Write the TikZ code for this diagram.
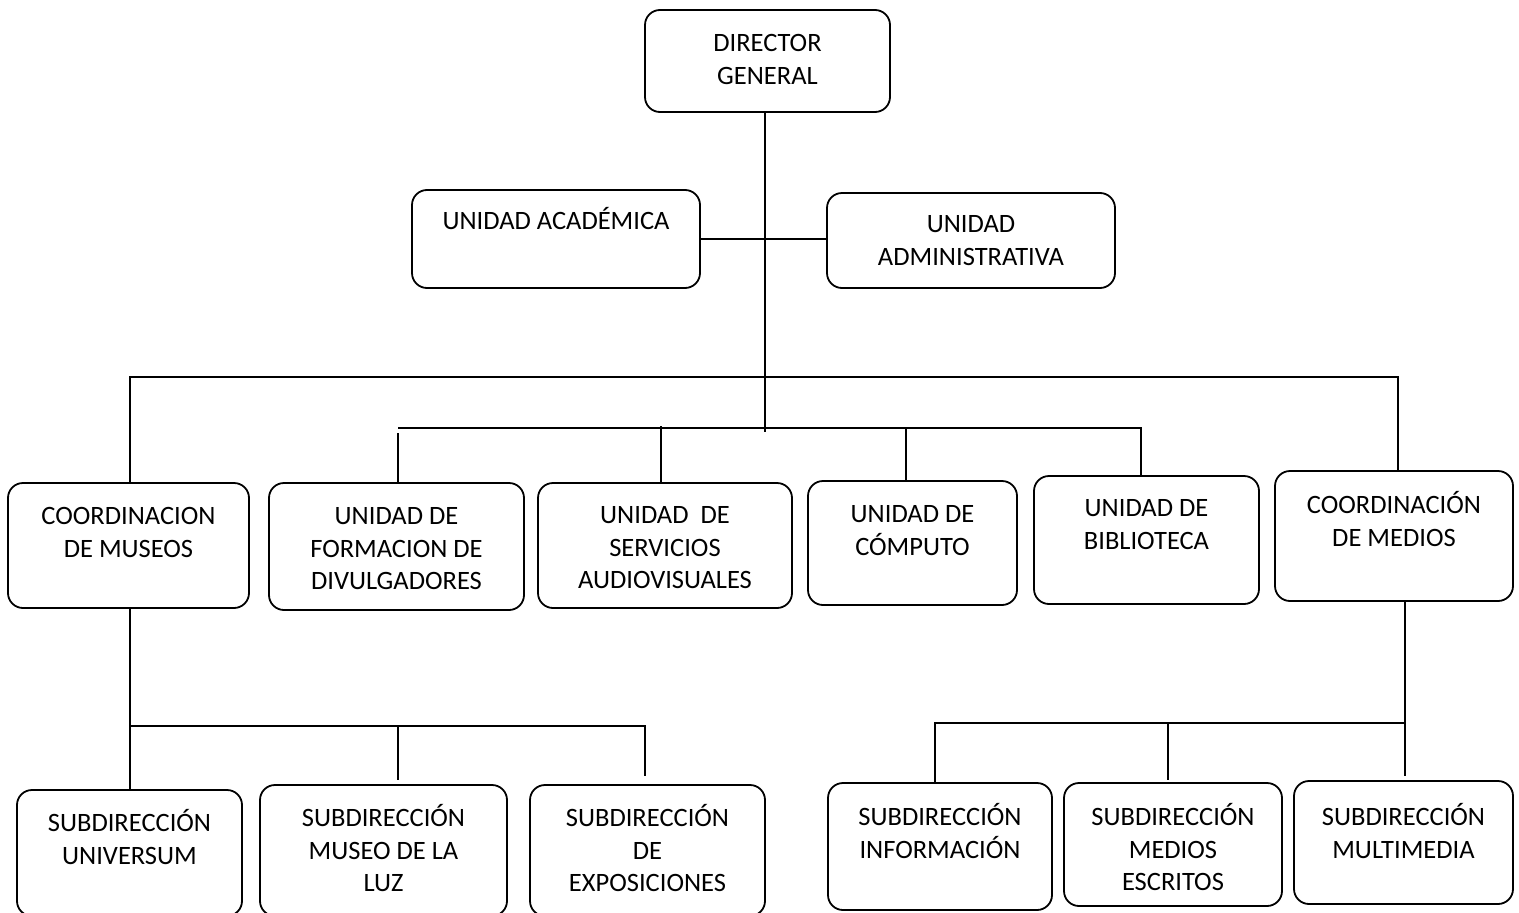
\documentclass[tikz,border=0pt]{standalone}
\usepackage{fontspec}
\setmainfont{Carlito}
\usetikzlibrary{fit}
\tikzset{x=1pt,y=-1pt,
  orgbox/.style={draw, line width=1.8pt, rounded corners=15pt, inner sep=0pt},
  lbl/.style={font=\fontsize{26.5}{32.5}\selectfont, align=center, inner sep=0pt, anchor=north},
  link/.style={line width=1.8pt}}
\newcommand\orgnode[7]{%
  \node[orgbox, fit={(#2,#3) (#4,#5)}] (#1) {};
  \node[lbl] (#1-t) at ({(#2+#4)/2},{#6+1-25}) {\rule{0pt}{25pt}#7};}
\begin{document}
\begin{tikzpicture}
\useasboundingbox (0,0) rectangle (1519,913);
\orgnode{dg}{645}{10}{890}{112}{50.5}{DIRECTOR\\GENERAL}
\orgnode{ua}{412}{190}{700}{288}{228.5}{UNIDAD ACADÉMICA}
\orgnode{uadm}{827}{193}{1115}{288}{231.5}{UNIDAD\\ADMINISTRATIVA}
\orgnode{cm}{8}{483}{249}{608}{523.5}{COORDINACION\\DE MUSEOS}
\orgnode{ufd}{269}{483}{524}{610}{523.5}{UNIDAD DE\\FORMACION DE\\DIVULGADORES}
\orgnode{usa}{538}{483}{792}{608}{522.5}{UNIDAD\ \ DE\\SERVICIOS\\AUDIOVISUALES}
\orgnode{uc}{808}{481}{1017}{605}{521.5}{UNIDAD DE\\CÓMPUTO}
\orgnode{ub}{1034}{476}{1259}{604}{515.5}{UNIDAD DE\\BIBLIOTECA}
\orgnode{cmed}{1275}{471}{1513}{601}{512.5}{COORDINACIÓN\\DE MEDIOS}
\orgnode{su}{17}{790}{242}{916}{830.5}{SUBDIRECCIÓN\\UNIVERSUM}
\orgnode{sml}{260}{785}{507}{916}{825.5}{SUBDIRECCIÓN\\MUSEO DE LA\\LUZ}
\orgnode{sde}{530}{785}{765}{916}{825.5}{SUBDIRECCIÓN\\DE\\EXPOSICIONES}
\orgnode{si}{828}{783}{1052}{910}{824.5}{SUBDIRECCIÓN\\INFORMACIÓN}
\orgnode{sme}{1064}{783}{1282}{906}{824.5}{SUBDIRECCIÓN\\MEDIOS\\ESCRITOS}
\orgnode{smm}{1294}{781}{1513}{904}{824.5}{SUBDIRECCIÓN\\MULTIMEDIA}
% connectors
\coordinate (hub) at (765,432);
\draw[link] (dg.south -| hub) -- (hub);
\draw[link] (ua.east) -- (ua.east -| uadm.west);
\coordinate (b1l) at (130,377);
\coordinate (b1r) at (1398,377);
\draw[link] (cm.north -| b1l) -- (b1l) -- (b1r) -- (b1r |- cmed.north);
\coordinate (b2l) at (398,428);
\coordinate (b2r) at (1141,428);
\draw[link] (b2l) -- (b2r) -- (b2r |- ub.north);
\coordinate (d1) at (398,433);
\coordinate (d2) at (661,426);
\coordinate (d3) at (906,428);
\draw[link] (d1) -- (d1 |- ufd.north);
\draw[link] (d2) -- (d2 |- usa.north);
\draw[link] (d3) -- (d3 |- uc.north);
\coordinate (b3l) at (130,726);
\coordinate (b3m) at (398,726);
\coordinate (b3r) at (645,726);
\coordinate (e1) at (398,780);
\coordinate (e2) at (645,776);
\draw[link] (cm.south -| b3l) -- (b3l |- su.north);
\draw[link] (b3l) -- (b3r) -- (e2);
\draw[link] (b3m) -- (e1);
\coordinate (b4l) at (935,723);
\coordinate (b4m) at (1168,723);
\coordinate (b4r) at (1405,723);
\coordinate (e3) at (1168,780);
\coordinate (e4) at (1405,776);
\draw[link] (cmed.south -| b4r) -- (e4);
\draw[link] (b4r) -- (b4l) -- (b4l |- si.north);
\draw[link] (b4m) -- (e3);
\end{tikzpicture}
\end{document}
